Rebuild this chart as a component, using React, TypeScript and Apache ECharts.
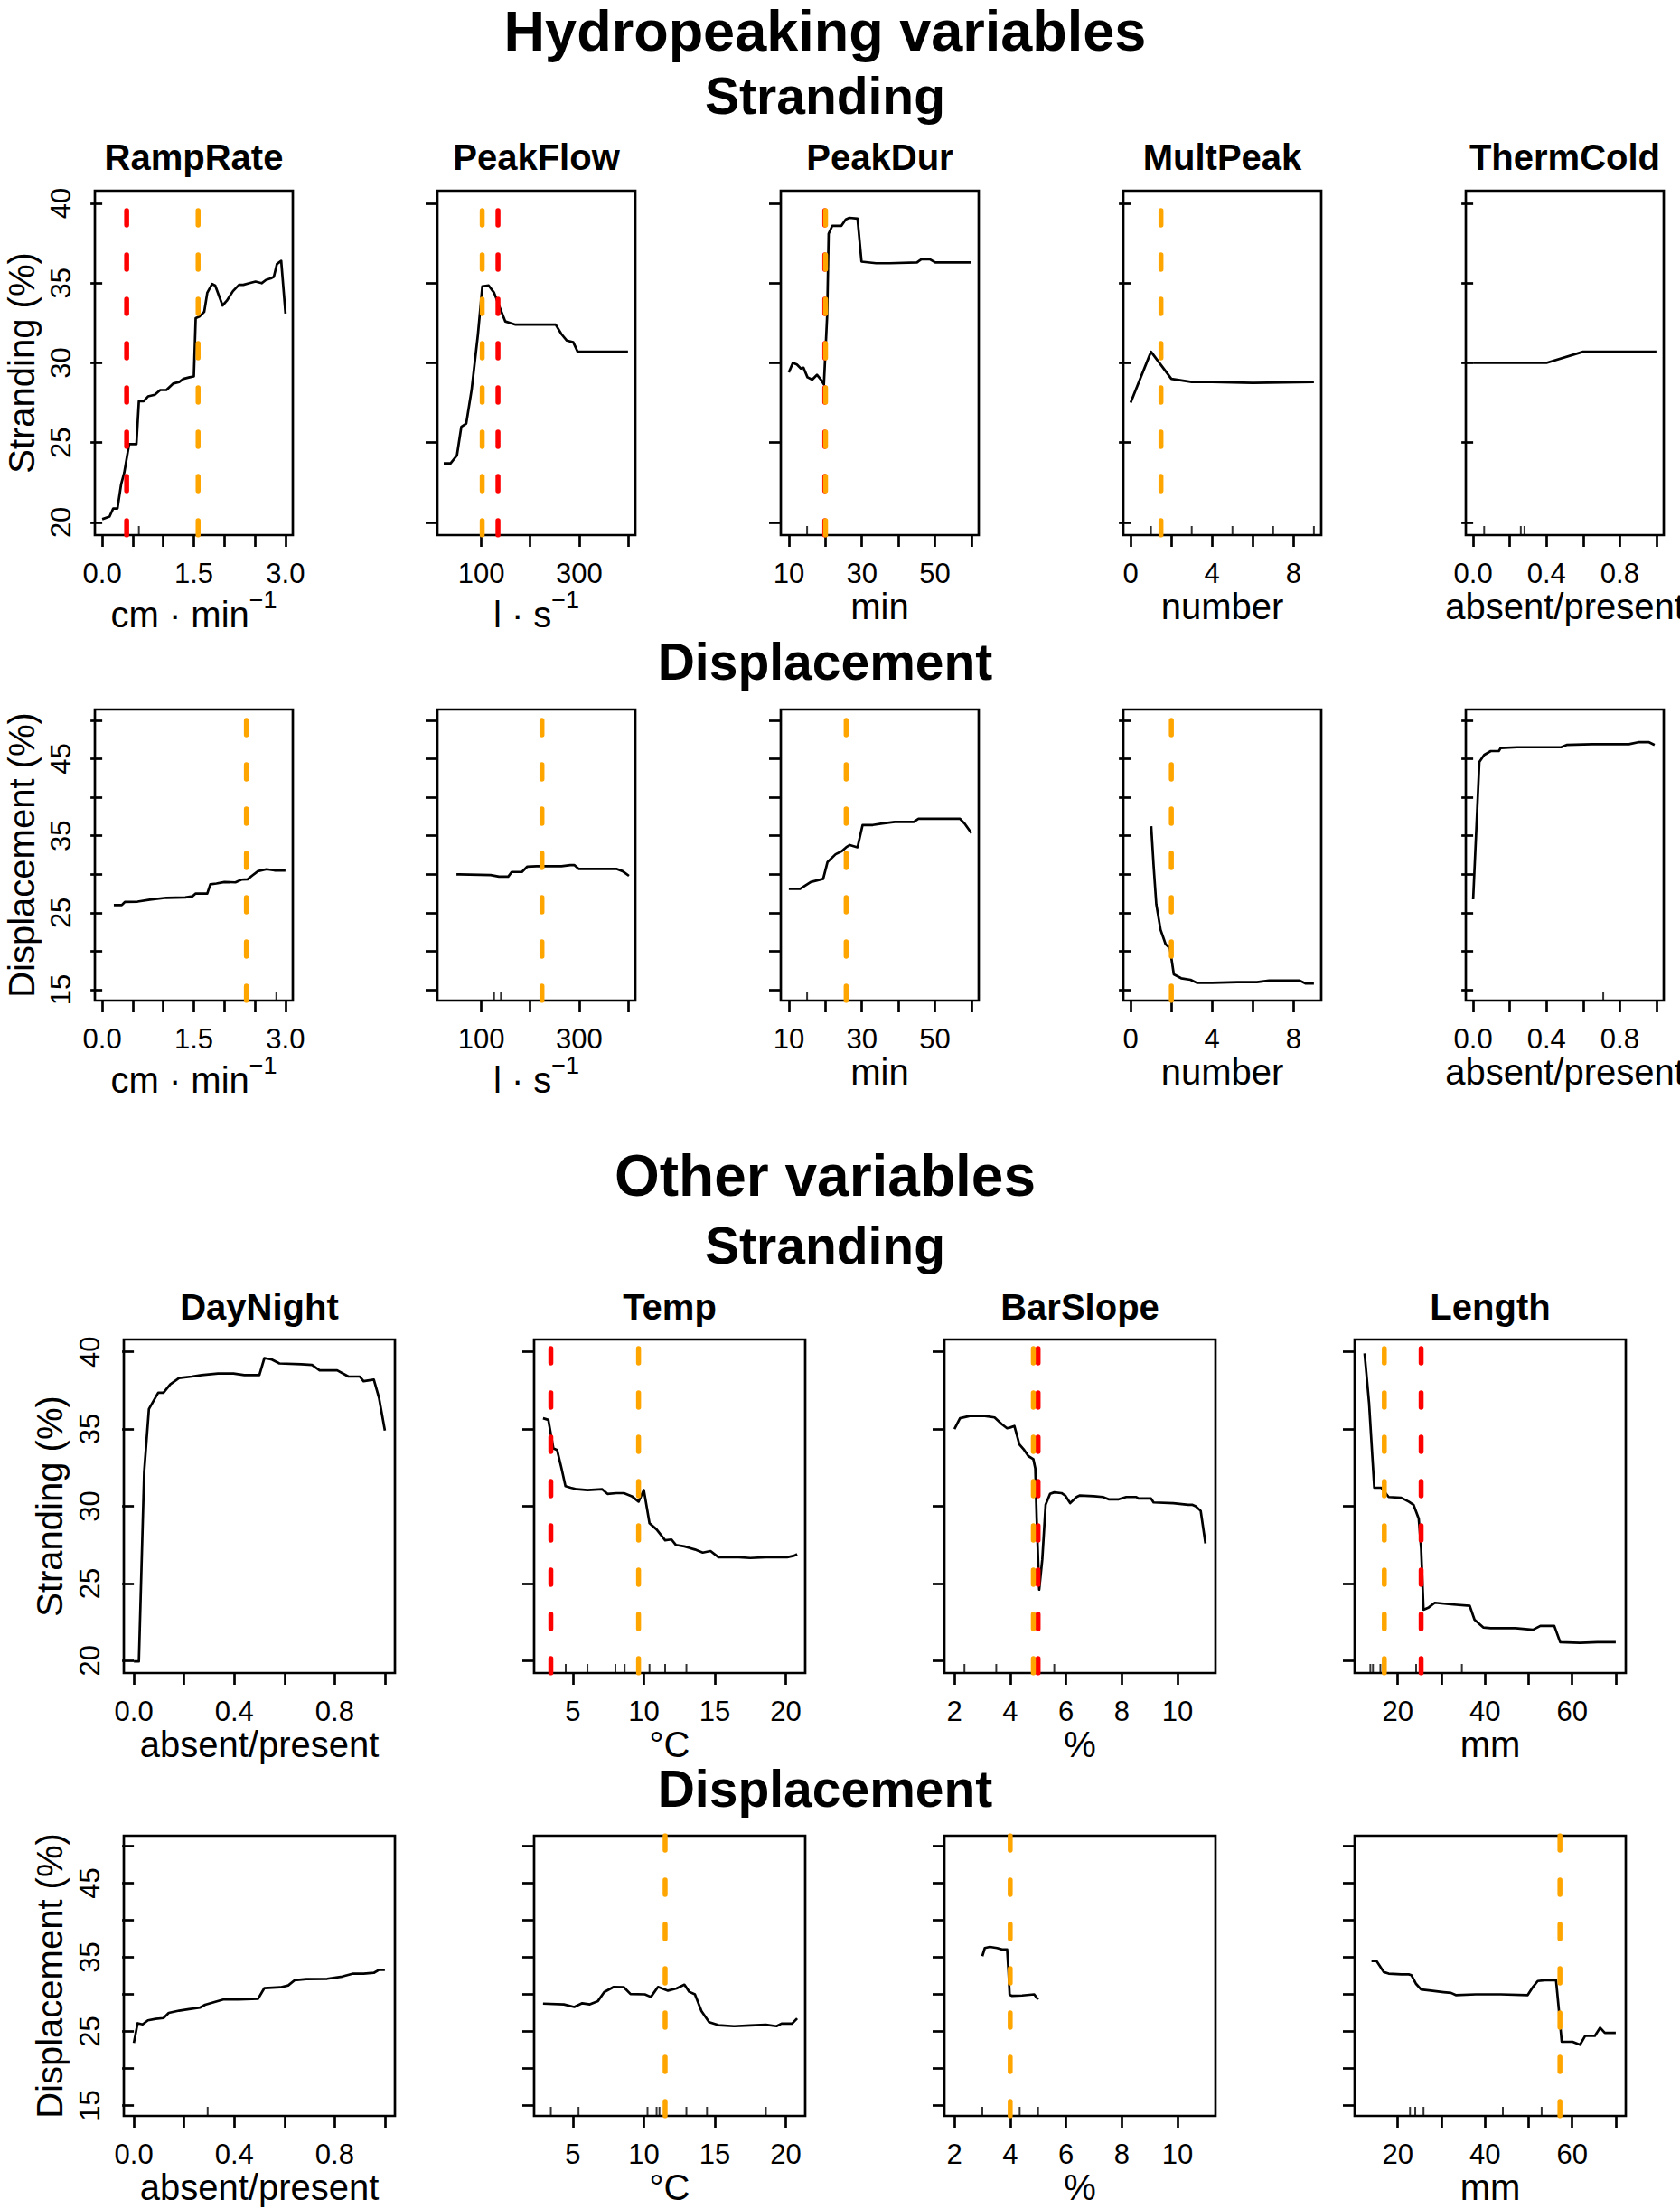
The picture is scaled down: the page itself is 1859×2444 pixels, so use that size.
import React, { useEffect, useRef } from "react";
import * as echarts from "echarts";

const FONT = '"Liberation Sans", Arial, Helvetica, sans-serif';
const RED = "#FF0000";
const ORANGE = "#FFA500";

// ---------- tick values ----------
const strandingTicks = [20, 25, 30, 35, 40];
const strandingLabels = [20, 25, 30, 35, 40];
const displacementTicks = [15, 20, 25, 30, 35, 40, 45, 50];
const displacementLabels = [15, 25, 35, 45];

const rampTicks = [0, 0.5, 1, 1.5, 2, 2.5, 3];
const rampLabels = [0, 1.5, 3];
const flowTicks = [100, 200, 300, 400];
const flowLabels = [100, 300];
const durTicks = [10, 20, 30, 40, 50, 60];
const durLabels = [10, 30, 50];
const multTicks = [0, 2, 4, 6, 8];
const multLabels = [0, 4, 8];
const binTicks = [0, 0.2, 0.4, 0.6, 0.8, 1];
const binLabels = [0, 0.4, 0.8];
const tempTicks = [5, 10, 15, 20];
const slopeTicks = [2, 4, 6, 8, 10];
const lenTicks = [20, 30, 40, 50, 60, 70];
const lenLabels = [20, 40, 60];

// ---------- Hydropeaking: Stranding ----------
const strRampRate = [
  [0.0, 20.2], [0.12, 20.36], [0.18, 20.87], [0.25, 20.87], [0.31, 22.4], [0.36, 23.1],
  [0.44, 24.9], [0.48, 24.9], [0.56, 24.9], [0.6, 27.6], [0.68, 27.6], [0.75, 27.9],
  [0.86, 28.0], [0.95, 28.3], [1.05, 28.3], [1.16, 28.7], [1.26, 28.8], [1.33, 29.0],
  [1.43, 29.1], [1.5, 29.15], [1.53, 32.8], [1.59, 32.9], [1.67, 33.2], [1.72, 34.4],
  [1.8, 34.95], [1.85, 34.85], [1.97, 33.6], [2.04, 33.9], [2.14, 34.5], [2.24, 34.9],
  [2.31, 34.9], [2.41, 35.0], [2.51, 35.1], [2.61, 35.0], [2.68, 35.2], [2.76, 35.3],
  [2.81, 35.4], [2.86, 36.2], [2.93, 36.4], [3.0, 33.1],
];
const strPeakFlow = [
  [23, 23.7], [37, 23.7], [50, 24.2], [59, 26.0], [69, 26.2], [80, 28.3], [93, 31.8],
  [102, 34.8], [115, 34.85], [126, 34.4], [136, 33.6], [149, 32.6], [170, 32.4],
  [205, 32.4], [252, 32.4], [264, 31.8], [275, 31.4], [288, 31.3], [297, 30.7],
  [325, 30.7], [400, 30.7],
];
const strPeakDur = [
  [10, 29.4], [11.1, 30.0], [12.2, 29.9], [13.3, 29.65], [14.0, 29.7], [15.1, 29.1],
  [16.4, 28.95], [17.7, 29.25], [18.8, 28.95], [19.6, 28.65], [20.5, 33.0], [20.9, 38.1],
  [21.9, 38.6], [24.4, 38.6], [25.6, 39.0], [26.6, 39.1], [28.8, 39.05], [29.9, 36.35],
  [33.9, 36.25], [37.6, 36.25], [45.1, 36.3], [46.3, 36.5], [48.6, 36.5], [50.1, 36.3],
  [60, 36.3],
];
const strMultPeak = [
  [0, 27.5], [1, 30.7], [2, 29.0], [3, 28.8], [4, 28.8], [6, 28.75], [9, 28.8],
];
const strThermCold = [
  [0, 30.0], [0.4, 30.0], [0.6, 30.7], [1.0, 30.7],
];

// ---------- Hydropeaking: Displacement ----------
const dispRampRate = [
  [0.19, 26.0], [0.32, 26.0], [0.37, 26.4], [0.58, 26.45], [0.78, 26.7], [1.05, 26.95],
  [1.36, 27.0], [1.48, 27.15], [1.53, 27.5], [1.72, 27.5], [1.77, 28.7], [1.87, 28.8],
  [2.0, 29.0], [2.18, 28.95], [2.28, 29.3], [2.38, 29.35], [2.45, 29.8], [2.55, 30.4],
  [2.69, 30.65], [2.82, 30.5], [3.0, 30.5],
];
const dispPeakFlow = [
  [49, 30.0], [119, 29.9], [136, 29.7], [155, 29.7], [162, 30.3], [183, 30.3],
  [194, 31.0], [213, 31.05], [264, 31.05], [282, 31.2], [290, 31.2], [299, 30.7],
  [325, 30.7], [376, 30.7], [389, 30.4], [402, 29.8],
];
const dispPeakDur = [
  [10, 28.1], [13.1, 28.1], [16, 29.0], [19.4, 29.4], [20.6, 31.6], [22.8, 32.6],
  [24.5, 33.0], [25.7, 33.5], [26.7, 33.8], [28.8, 33.5], [30.2, 36.4], [33, 36.4],
  [35.6, 36.6], [39, 36.8], [44.2, 36.8], [45.5, 37.2], [50.1, 37.2], [56.9, 37.2],
  [58.1, 36.6], [60, 35.35],
];
const dispMultPeak = [
  [1.01, 36.25], [1.13, 31.0], [1.26, 26.1], [1.47, 22.8], [1.72, 20.9], [1.93, 20.4],
  [2.12, 17.0], [2.48, 16.5], [2.94, 16.3], [3.25, 15.9], [4, 15.9], [5.25, 16.0],
  [6.2, 16.0], [6.8, 16.2], [8.3, 16.2], [8.6, 15.8], [9.0, 15.8],
];
const dispThermCold = [
  [0, 26.75], [0.034, 44.6], [0.06, 45.5], [0.096, 46.0], [0.14, 46.0], [0.15, 46.4],
  [0.24, 46.5], [0.48, 46.5], [0.51, 46.8], [0.65, 46.9], [0.85, 46.9], [0.9, 47.15],
  [0.96, 47.15], [0.99, 46.8],
];

// ---------- Other: Stranding ----------
const othStrDayNight = [
  [0, 19.95], [0.02, 19.95], [0.041, 32.2], [0.06, 36.3], [0.097, 37.35], [0.118, 37.35],
  [0.145, 37.9], [0.18, 38.3], [0.23, 38.4], [0.27, 38.5], [0.335, 38.6], [0.397, 38.6],
  [0.44, 38.5], [0.5, 38.5], [0.52, 39.6], [0.55, 39.5], [0.58, 39.25], [0.667, 39.2],
  [0.71, 39.15], [0.74, 38.8], [0.81, 38.8], [0.855, 38.4], [0.9, 38.4], [0.915, 38.1],
  [0.956, 38.2], [0.977, 37.0], [1.0, 34.9],
];
const othStrTemp = [
  [2.9, 35.7], [3.27, 35.6], [3.63, 33.75], [3.89, 33.65], [4.19, 32.5], [4.48, 31.3],
  [4.85, 31.2], [5.3, 31.1], [6.03, 31.05], [7.07, 31.1], [7.44, 30.8], [8.06, 30.85],
  [8.6, 30.85], [9.15, 30.65], [9.63, 30.3], [10.0, 31.05], [10.4, 28.9], [10.9, 28.5],
  [11.5, 27.8], [11.95, 27.85], [12.25, 27.5], [12.86, 27.4], [13.6, 27.2], [14.15, 27.0],
  [14.7, 27.1], [15.26, 26.7], [16.7, 26.7], [17.5, 26.65], [18.6, 26.7], [20.1, 26.7],
  [20.6, 26.8], [20.8, 26.9],
];
const othStrBarSlope = [
  [2.0, 35.0], [2.2, 35.7], [2.55, 35.85], [3.09, 35.85], [3.44, 35.75], [3.71, 35.3],
  [3.89, 35.05], [4.0, 35.1], [4.15, 35.2], [4.33, 34.0], [4.5, 33.65], [4.65, 33.25],
  [4.83, 33.05], [4.9, 32.45], [4.95, 29.2], [5.04, 24.6], [5.15, 26.55], [5.27, 30.1],
  [5.43, 30.8], [5.58, 30.9], [5.84, 30.85], [5.97, 30.7], [6.15, 30.2], [6.38, 30.6],
  [6.5, 30.7], [7.0, 30.65], [7.32, 30.6], [7.53, 30.45], [7.89, 30.45], [8.16, 30.6],
  [8.52, 30.6], [8.6, 30.5], [9.05, 30.5], [9.14, 30.25], [9.85, 30.2], [10.38, 30.1],
  [10.52, 30.1], [10.65, 30.0], [10.83, 29.7], [11.0, 27.6],
];
const othStrLength = [
  [12.37, 39.9], [13.4, 36.7], [14.6, 31.2], [16.2, 31.2], [17.9, 30.6], [20.8, 30.55],
  [22.5, 30.3], [23.6, 30.1], [24.8, 29.2], [25.35, 27.25], [25.9, 23.3], [27.1, 23.45],
  [28.5, 23.75], [32.2, 23.65], [36.5, 23.55], [37.6, 22.65], [39.6, 22.15], [41.3, 22.1],
  [47.0, 22.1], [51.0, 22.0], [52.7, 22.25], [55.9, 22.25], [57.25, 21.2], [61.8, 21.15],
  [65.8, 21.2], [70.0, 21.2],
];

// ---------- Other: Displacement ----------
const othDispDayNight = [
  [0, 23.45], [0.015, 26.1], [0.035, 25.95], [0.056, 26.5], [0.087, 26.7], [0.118, 26.8],
  [0.139, 27.5], [0.18, 27.8], [0.22, 28.0], [0.263, 28.2], [0.284, 28.6], [0.315, 28.9],
  [0.356, 29.3], [0.418, 29.3], [0.495, 29.4], [0.52, 30.85], [0.584, 30.95], [0.615, 31.2],
  [0.64, 31.9], [0.687, 32.05], [0.77, 32.1], [0.83, 32.4], [0.874, 32.8], [0.915, 32.8],
  [0.956, 32.9], [0.977, 33.3], [1.0, 33.3],
];
const othDispTemp = [
  [2.9, 28.75], [4.37, 28.65], [5.1, 28.3], [5.66, 28.8], [6.2, 28.65], [6.77, 29.1],
  [7.21, 30.3], [7.88, 31.0], [8.6, 30.95], [9.06, 30.05], [10.07, 30.0], [10.5, 29.65],
  [11.0, 31.0], [11.7, 30.5], [12.3, 30.8], [12.86, 31.3], [13.2, 30.35], [13.6, 30.0],
  [14.06, 27.75], [14.6, 26.25], [15.26, 25.85], [16.36, 25.7], [17.5, 25.8], [18.6, 25.9],
  [19.35, 25.7], [19.7, 26.05], [20.45, 26.05], [20.8, 26.75],
];
const othDispBarSlope = [
  [3.0, 35.15], [3.09, 36.25], [3.27, 36.4], [3.53, 36.25], [3.71, 36.05], [3.89, 36.05],
  [3.94, 33.0], [3.98, 29.95], [4.07, 29.8], [4.43, 29.85], [4.86, 30.0], [5.0, 29.3],
];
const othDispLength = [
  [13.96, 34.5], [15.1, 34.5], [16.8, 33.0], [17.9, 32.8], [20.8, 32.7], [22.5, 32.7],
  [23.1, 32.6], [24.2, 31.4], [25.35, 30.65], [27.6, 30.5], [30.5, 30.3], [32.2, 30.2],
  [33.3, 29.9], [37.9, 30.0], [43.6, 30.0], [49.8, 29.9], [51.0, 31.0], [52.1, 31.8],
  [53.8, 31.9], [56.3, 31.9], [57.0, 27.6], [57.6, 23.6], [60.1, 23.6], [61.8, 23.2],
  [63.0, 24.4], [65.2, 24.4], [66.4, 25.5], [67.5, 24.8], [70.0, 24.8],
];

// ---------- rug (decile) marks ----------
const rugStrRamp = [0.6];
const rugStrDur = [15];
const rugStrMult = [1, 3, 5, 7, 9];
const rugStrTherm = [0.06, 0.26, 0.28];
const rugDispRamp = [2.85];
const rugDispFlow = [126, 140];
const rugDispDur = [15];
const rugDispTherm = [0.71];
const rugOthStrTemp = [4.5, 6.03, 8.0, 8.65, 10.4, 11.5, 13.0];
const rugOthStrSlope = [2.36, 3.5, 5.58];
const rugOthStrLen = [13.7, 14.3, 16.0, 24.2, 34.7];
const rugOthDispDay = [0.294];
const rugOthDispTemp = [3.45, 5.4, 10.26, 10.9, 11.1, 13.0, 14.45, 18.6];
const rugOthDispSlope = [3.0, 4.34, 5.0];
const rugOthDispLen = [22.8, 24.0, 25.9, 44.1, 53.0];

// ---------- threshold lines [value, colour] ----------
const cutStrRamp: [number, string][] = [[0.4, RED], [1.57, ORANGE]];
const cutStrFlow: [number, string][] = [[134, RED], [101.7, ORANGE]];
const cutStrDur: [number, string][] = [[19.85, RED], [20.05, ORANGE]];
const cutStrMult: [number, string][] = [[1.49, ORANGE]];
const cutDispRamp: [number, string][] = [[2.36, ORANGE]];
const cutDispFlow: [number, string][] = [[224, ORANGE]];
const cutDispDur: [number, string][] = [[25.7, ORANGE]];
const cutDispMult: [number, string][] = [[2.0, ORANGE]];
const cutOthStrTemp: [number, string][] = [[3.45, RED], [9.63, ORANGE]];
const cutOthStrSlope: [number, string][] = [[5.0, RED], [4.83, ORANGE]];
const cutOthStrLen: [number, string][] = [[25.35, RED], [16.9, ORANGE]];
const cutOthDispTemp: [number, string][] = [[11.5, ORANGE]];
const cutOthDispSlope: [number, string][] = [[4.0, ORANGE]];
const cutOthDispLen: [number, string][] = [[57.2, ORANGE]];

// ---------- axis ranges ----------
const rngRamp = [-0.12, 3.12];
const rngFlow = [10, 415];
const rngDur = [7.8, 62];
const rngMult = [-0.36, 9.36];
const rngBin = [-0.04, 1.04];
const rngTemp = [2.27, 21.37];
const rngSlope = [1.64, 11.36];
const rngLen = [10.1, 72.3];
const rngStr = [19.2, 40.8];
const rngDisp = [13.6, 51.4];

type Panel = {
  row: number;
  col: number;
  title: string | null;
  unit: string;
  sup?: string;
  xr: number[];
  xt: number[];
  xl: number[];
  dec: number;
  kind: "S" | "D";
  curve: number[][];
  rug: number[];
  cuts: [number, string][];
};

const panels: Panel[] = [
  // row 0: hydropeaking stranding
  { row: 0, col: 0, title: "RampRate", unit: "cm · min", sup: "−1", xr: rngRamp, xt: rampTicks, xl: rampLabels, dec: 1, kind: "S", curve: strRampRate, rug: rugStrRamp, cuts: cutStrRamp },
  { row: 0, col: 1, title: "PeakFlow", unit: "l · s", sup: "−1", xr: rngFlow, xt: flowTicks, xl: flowLabels, dec: 0, kind: "S", curve: strPeakFlow, rug: [], cuts: cutStrFlow },
  { row: 0, col: 2, title: "PeakDur", unit: "min", xr: rngDur, xt: durTicks, xl: durLabels, dec: 0, kind: "S", curve: strPeakDur, rug: rugStrDur, cuts: cutStrDur },
  { row: 0, col: 3, title: "MultPeak", unit: "number", xr: rngMult, xt: multTicks, xl: multLabels, dec: 0, kind: "S", curve: strMultPeak, rug: rugStrMult, cuts: cutStrMult },
  { row: 0, col: 4, title: "ThermCold", unit: "absent/present", xr: rngBin, xt: binTicks, xl: binLabels, dec: 1, kind: "S", curve: strThermCold, rug: rugStrTherm, cuts: [] },
  // row 1: hydropeaking displacement
  { row: 1, col: 0, title: null, unit: "cm · min", sup: "−1", xr: rngRamp, xt: rampTicks, xl: rampLabels, dec: 1, kind: "D", curve: dispRampRate, rug: rugDispRamp, cuts: cutDispRamp },
  { row: 1, col: 1, title: null, unit: "l · s", sup: "−1", xr: rngFlow, xt: flowTicks, xl: flowLabels, dec: 0, kind: "D", curve: dispPeakFlow, rug: rugDispFlow, cuts: cutDispFlow },
  { row: 1, col: 2, title: null, unit: "min", xr: rngDur, xt: durTicks, xl: durLabels, dec: 0, kind: "D", curve: dispPeakDur, rug: rugDispDur, cuts: cutDispDur },
  { row: 1, col: 3, title: null, unit: "number", xr: rngMult, xt: multTicks, xl: multLabels, dec: 0, kind: "D", curve: dispMultPeak, rug: [], cuts: cutDispMult },
  { row: 1, col: 4, title: null, unit: "absent/present", xr: rngBin, xt: binTicks, xl: binLabels, dec: 1, kind: "D", curve: dispThermCold, rug: rugDispTherm, cuts: [] },
  // row 2: other stranding
  { row: 2, col: 0, title: "DayNight", unit: "absent/present", xr: rngBin, xt: binTicks, xl: binLabels, dec: 1, kind: "S", curve: othStrDayNight, rug: [], cuts: [] },
  { row: 2, col: 1, title: "Temp", unit: "°C", xr: rngTemp, xt: tempTicks, xl: tempTicks, dec: 0, kind: "S", curve: othStrTemp, rug: rugOthStrTemp, cuts: cutOthStrTemp },
  { row: 2, col: 2, title: "BarSlope", unit: "%", xr: rngSlope, xt: slopeTicks, xl: slopeTicks, dec: 0, kind: "S", curve: othStrBarSlope, rug: rugOthStrSlope, cuts: cutOthStrSlope },
  { row: 2, col: 3, title: "Length", unit: "mm", xr: rngLen, xt: lenTicks, xl: lenLabels, dec: 0, kind: "S", curve: othStrLength, rug: rugOthStrLen, cuts: cutOthStrLen },
  // row 3: other displacement
  { row: 3, col: 0, title: null, unit: "absent/present", xr: rngBin, xt: binTicks, xl: binLabels, dec: 1, kind: "D", curve: othDispDayNight, rug: rugOthDispDay, cuts: [] },
  { row: 3, col: 1, title: null, unit: "°C", xr: rngTemp, xt: tempTicks, xl: tempTicks, dec: 0, kind: "D", curve: othDispTemp, rug: rugOthDispTemp, cuts: cutOthDispTemp },
  { row: 3, col: 2, title: null, unit: "%", xr: rngSlope, xt: slopeTicks, xl: slopeTicks, dec: 0, kind: "D", curve: othDispBarSlope, rug: rugOthDispSlope, cuts: cutOthDispSlope },
  { row: 3, col: 3, title: null, unit: "mm", xr: rngLen, xt: lenTicks, xl: lenLabels, dec: 0, kind: "D", curve: othDispLength, rug: rugOthDispLen, cuts: cutOthDispLen },
];

// ---------- layout (pixels) ----------
const ROW_TOP = [211, 785, 1482, 2031];
const ROW_H = [381, 322, 369, 310];
const COL_LEFT_TOP = [105, 484, 864, 1243, 1622];
const COL_W_TOP = 219;
const COL_LEFT_BOT = [137, 591, 1045, 1499];
const COL_W_BOT = 300;
const PANEL_TITLE_Y = [174, null, 1446, null];

const headings = [
  { text: "Hydropeaking variables", y: 34, size: 63 },
  { text: "Stranding", y: 106, size: 57 },
  { text: "Displacement", y: 732, size: 57 },
  { text: "Other variables", y: 1301, size: 64 },
  { text: "Stranding", y: 1378, size: 57 },
  { text: "Displacement", y: 1979, size: 57 },
];

function buildOption() {
  const grid: any[] = [];
  const xAxis: any[] = [];
  const yAxis: any[] = [];
  const series: any[] = [];
  const graphic: any[] = [];
  const LW = 2.7;

  headings.forEach((h) => {
    graphic.push({
      type: "text",
      x: 913,
      y: h.y,
      silent: true,
      style: {
        text: h.text,
        fontSize: h.size,
        fontWeight: "bold",
        fontFamily: FONT,
        fill: "#000",
        align: "center",
        verticalAlign: "middle",
        textAlign: "center",
        textVerticalAlign: "middle",
      },
    });
  });

  panels.forEach((p, i) => {
    const top = ROW_TOP[p.row];
    const height = ROW_H[p.row];
    const isTop = p.row < 2;
    const left = isTop ? COL_LEFT_TOP[p.col] : COL_LEFT_BOT[p.col];
    const width = isTop ? COL_W_TOP : COL_W_BOT;
    const yr = p.kind === "S" ? rngStr : rngDisp;
    const yt = p.kind === "S" ? strandingTicks : displacementTicks;
    const yl = p.kind === "S" ? strandingLabels : displacementLabels;
    const first = p.col === 0;

    grid.push({
      left,
      top,
      width,
      height,
      show: true,
      borderColor: "#000",
      borderWidth: LW,
      backgroundColor: "rgba(0,0,0,0)",
      containLabel: false,
      outerBoundsMode: "none",
    });

    const nameStr = p.sup ? `{n|${p.unit}}{s|${p.sup}}` : `{n|${p.unit}}`;
    xAxis.push({
      type: "value",
      gridIndex: i,
      min: p.xr[0],
      max: p.xr[1],
      position: "bottom",
      axisLine: { show: false },
      splitLine: { show: false },
      axisTick: {
        show: true,
        inside: false,
        length: 13,
        customValues: p.xt,
        lineStyle: { color: "#000", width: LW },
      },
      axisLabel: {
        show: true,
        customValues: p.xl,
        margin: 27,
        fontSize: 31,
        fontFamily: FONT,
        color: "#000",
        formatter: (v: number) => v.toFixed(p.dec),
      },
      name: nameStr,
      nameLocation: "middle",
      nameGap: 50,
      nameTextStyle: {
        color: "#000",
        fontFamily: FONT,
        fontSize: 40,
        rich: {
          n: { fontSize: 40, lineHeight: 58, fontFamily: FONT, color: "#000" },
          s: { fontSize: 27, lineHeight: 27, verticalAlign: "top", fontFamily: FONT, color: "#000" },
        },
      },
    });

    yAxis.push({
      type: "value",
      gridIndex: i,
      min: yr[0],
      max: yr[1],
      position: "left",
      axisLine: { show: false },
      splitLine: { show: false },
      axisTick: {
        show: true,
        inside: false,
        length: 13,
        customValues: yt,
        lineStyle: { color: "#000", width: LW },
      },
      axisLabel: {
        show: first,
        customValues: yl,
        rotate: 90,
        margin: 22,
        fontSize: 31,
        fontFamily: FONT,
        color: "#000",
        formatter: (v: number) => String(Math.round(v)),
      },
      name: first ? (p.kind === "S" ? "Stranding (%)" : "Displacement (%)") : "",
      nameLocation: "middle",
      nameGap: isTop ? 61 : 62,
      nameTextStyle: { color: "#000", fontFamily: FONT, fontSize: 40, lineHeight: 40 },
    });

    series.push({
      type: "line",
      xAxisIndex: i,
      yAxisIndex: i,
      data: p.curve,
      showSymbol: false,
      symbol: "none",
      silent: true,
      lineStyle: { color: "#000", width: 2.7, join: "round" },
      z: 3,
    });

    if (p.rug.length) {
      series.push({
        type: "scatter",
        xAxisIndex: i,
        yAxisIndex: i,
        data: p.rug.map((v) => [v, yr[0]]),
        symbol: "rect",
        symbolSize: [2, 10],
        symbolOffset: [0, -5],
        itemStyle: { color: "#000" },
        silent: true,
        clip: false,
        z: 3,
      });
    }

    p.cuts.forEach(([v, c]) => {
      series.push({
        type: "line",
        xAxisIndex: i,
        yAxisIndex: i,
        data: [
          [v, yr[0]],
          [v, yr[1]],
        ],
        showSymbol: false,
        symbol: "none",
        silent: true,
        lineStyle: { color: c, width: 5.5, type: [16, 33], cap: "round" },
        z: 4,
      });
    });

    const ty = PANEL_TITLE_Y[p.row];
    if (p.title && ty != null) {
      graphic.push({
        type: "text",
        x: left + width / 2,
        y: ty,
        silent: true,
        style: {
          text: p.title,
          fontSize: 40,
          fontWeight: "bold",
          fontFamily: FONT,
          fill: "#000",
          align: "center",
          verticalAlign: "middle",
          textAlign: "center",
          textVerticalAlign: "middle",
        },
      });
    }
  });

  return {
    animation: false,
    backgroundColor: "#fff",
    textStyle: { fontFamily: FONT },
    grid,
    xAxis,
    yAxis,
    series,
    graphic: { elements: graphic },
  };
}

export default function App() {
  const ref = useRef<HTMLDivElement>(null);
  useEffect(() => {
    document.body.style.margin = "0";
    if (!ref.current) return;
    const chart = echarts.init(ref.current, undefined, { renderer: "svg" });
    chart.setOption(buildOption() as any);
    return () => chart.dispose();
  }, []);
  return <div ref={ref} style={{ width: 1859, height: 2444, background: "#fff" }} />;
}
